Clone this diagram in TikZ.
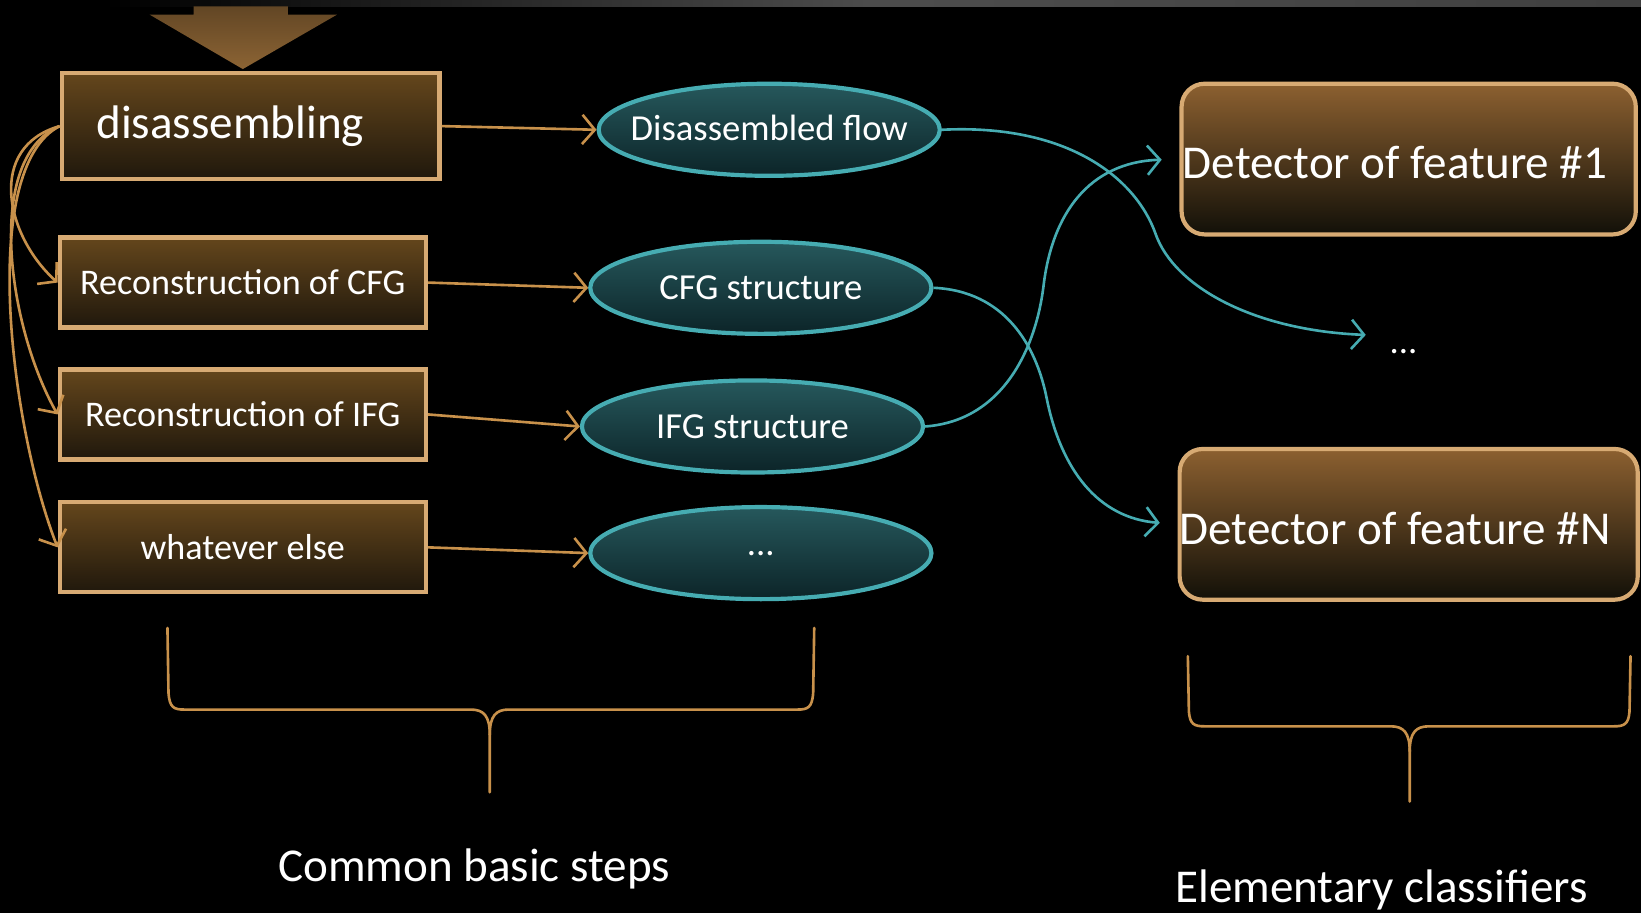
\documentclass[tikz,border=0pt]{standalone}
\usepackage{fontspec}
\setmainfont{Carlito}
\usetikzlibrary{arrows.meta,shapes.geometric}
\definecolor{tanc}{RGB}{215,170,115}
\definecolor{arrc}{RGB}{200,145,75}
\definecolor{tealc}{RGB}{70,172,178}
\definecolor{boxtop}{RGB}{100,70,28}
\definecolor{boxbot}{RGB}{32,24,12}
\definecolor{elltop}{RGB}{38,88,92}
\definecolor{ellbot}{RGB}{12,36,40}
\definecolor{dettop}{RGB}{140,96,48}
\definecolor{detbot}{RGB}{18,16,8}
\definecolor{bigarr}{RGB}{140,100,52}
\tikzset{
  stepbox/.style={draw=tanc, line width=4pt, top color=boxtop, bottom color=boxbot,
    minimum width=350pt, minimum height=86pt, inner sep=0pt, text=white,
    font=\fontsize{34.5}{40}\selectfont},
  resell/.style={ellipse, draw=tealc, line width=4pt, top color=elltop, bottom color=ellbot,
    minimum width=326pt, minimum height=88pt, inner sep=0pt, text=white,
    font=\fontsize{35}{40}\selectfont},
  detbox/.style={draw=tanc, line width=4pt, rounded corners=22pt, top color=dettop, bottom color=detbot,
    minimum width=434pt, minimum height=144pt, inner sep=0pt, text=white,
    font=\fontsize{45}{50}\selectfont},
  orarr/.style={draw=arrc, line width=2.5pt, -{Straight Barb[length=12pt,width=28pt]}},
  tealarr/.style={draw=tealc, line width=2.5pt, -{Straight Barb[length=12pt,width=28pt]}},
  bracec/.style={draw=arrc, line width=2.5pt, line cap=round},
  lbl/.style={text=white, font=\fontsize{45}{50}\selectfont, inner sep=0pt}
}
\begin{document}
\begin{tikzpicture}[x=1pt,y=-1pt]
\fill[black] (0,0) rectangle (1568,872);
\useasboundingbox (0,0) rectangle (1568,872);
% top strip
\fill[left color=black, right color=black!75!white, middle color=black!70!white] (100,0) rectangle (1568,6);
% big arrow
\path[top color=bigarr!70!black, bottom color=bigarr]
  (185,6) -- (275,6) -- (275,14) -- (322,14) -- (232,66) -- (143,14) -- (185,14) -- cycle;

% step boxes
\node[stepbox, minimum width=361pt, minimum height=101pt, font=\fontsize{45}{50}\selectfont] (dis) at (239.5,120.5) {disassembling\hspace*{39pt}};
\node[stepbox] (cfg) at (232,270) {Reconstruction of CFG};
\node[stepbox] (ifg) at (232,396) {Reconstruction of IFG};
\node[stepbox] (else) at (232,523) {whatever else};

% ellipses
\node[resell] (flow) at (735,124) {\makebox[0pt]{\raisebox{4pt}{Disassembled flow}}};
\node[resell] (cfgs) at (727,275) {\makebox[0pt]{\raisebox{1pt}{CFG structure}}};
\node[resell] (ifgs) at (719,407.5) {\makebox[0pt]{IFG structure}};
\node[resell] (dots) at (727,528.5) {\makebox[0pt]{...}};

% detectors
\node[detbox] (det1) at (1346,152) {\raisebox{-19pt}[0pt][0pt]{Detector of feature \#1}\hspace*{26pt}};
\node[detbox] (detN) at (1346,501) {\raisebox{-19pt}[0pt][0pt]{Detector of feature \#N}\hspace*{26pt}};
\node[text=white, font=\fontsize{35}{40}\selectfont, inner sep=0pt, anchor=base] (midots) at (1341,338) {...};
\coordinate (dotstip) at (1305,320);

% orange arrows
\draw[orarr] (dis.east) -- (flow.west);
\draw[orarr] (cfg.east) -- (cfgs.west);
\draw[orarr] (ifg.east) -- (ifgs.west);
\draw[orarr] (else.east) -- (dots.west);
\draw[orarr] (dis.west) .. controls +(-70,20) and +(-50,-45) .. (cfg.west);
\draw[orarr] (dis.west) .. controls +(-72,30) and +(-48,-85) .. (ifg.west);
\draw[orarr] (dis.west) .. controls +(-78,40) and +(-45,-115) .. (else.west);

% teal arrows
\draw[tealarr] (flow.east) .. controls (1020,118) and (1085,170) .. (1104,223)
  .. controls (1122,275) and (1200,316) .. (dotstip);
\draw[tealarr, shorten >=17pt] (cfgs.east) .. controls (960,278) and (990,330) .. (1000,380)
  .. controls (1014,450) and (1050,495) .. (detN.west);
\draw[tealarr, shorten >=17pt] (ifgs.east) .. controls (960,402) and (990,330) .. (997,274)
  .. controls (1005,205) and (1040,155) .. (det1.west);

% braces
\draw[bracec] (160,600) -- (161,662) .. controls (162,676) and (166,678) .. (176,678) -- (450,678)
  .. controls (462,678) and (468,684) .. (468,702) -- (468,757);
\draw[bracec] (778,600) -- (777,662) .. controls (776,676) and (772,678) .. (762,678) -- (486,678)
  .. controls (474,678) and (468,684) .. (468,702);
\draw[bracec] (1135,627) -- (1136,680) .. controls (1137,692) and (1141,694) .. (1151,694) -- (1329,694)
  .. controls (1341,694) and (1347,700) .. (1347,718) -- (1347,766);
\draw[bracec] (1558,627) -- (1557,680) .. controls (1556,692) and (1552,694) .. (1542,694) -- (1365,694)
  .. controls (1353,694) and (1347,700) .. (1347,718);

% labels
\node[lbl] (common) at (453,830) {Common basic steps};
\node[lbl] (elem) at (1320,850) {Elementary classifiers};
\end{tikzpicture}
\end{document}
